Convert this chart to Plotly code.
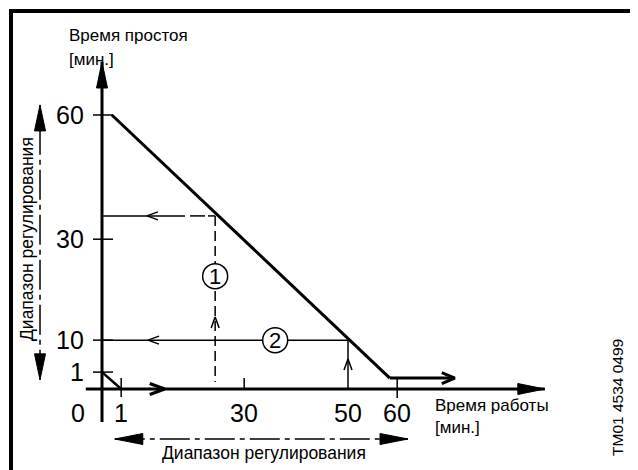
import plotly.graph_objects as go

# ---------------- data (diagram units) ----------------
x_tick_vals = [3.9, 28.9, 50, 60]
x_tick_text = ["1", "30", "50", "60"]
y_tick_vals = [3.7, 10.7, 32.8, 60]
y_tick_text = ["1", "10", "30", "60"]

# operating curve: pause time vs. run time, then constant
curve_x = [2.0, 58.5]
curve_y = [60, 2.4]
tail_x = [58.5, 71.7]
tail_y = [2.4, 2.4]
# start-up segment near origin
start_x = [0, 3.9]
start_y = [3.7, 0]

# example 1 (dash-dot construction) and example 2 (solid)
ex1_x, ex1_y = 23.0, 37.9
ex2_x, ex2_y = 50.0, 10.7
ex1_label, ex2_label = "1", "2"
ex1_label_y = 24.7
ex2_label_x = 35.2

# axis extents
x_axis = [-3.3, 90.0]
y_axis = [-7.2, 71.6]
x_range_arrow = [2.6, 62.2]     # bottom "Диапазон регулирования"
y_range_arrow = [2.0, 62.2]     # left "Диапазон регулирования"

# ---------------- geometry / styling ----------------
PAGE = 8                   # default page margin of the html body
W, H = 638 - PAGE, 470 - PAGE
OX, OY = 102 - PAGE, 389 - PAGE   # pixel of origin inside the figure
SX, SY = 4.92, 4.567       # pixels per diagram unit
XR = [-OX / SX, (W - OX) / SX]
YR = [(OY - H) / SY, OY / SY]


def dx(p):
    return p / SX


def dy(p):
    return p / SY


FONT = "Liberation Sans, Arial, Helvetica, sans-serif"
fig = go.Figure()


def line(xs, ys, width=1.5, dash="solid"):
    fig.add_trace(go.Scatter(x=xs, y=ys, mode="lines", hoverinfo="skip",
                             line=dict(color="black", width=width, dash=dash),
                             showlegend=False))


def head(tx, ty, direction, length, half, filled=True, width=1.5):
    ux, uy = {"up": (0, 1), "down": (0, -1), "left": (-1, 0), "right": (1, 0)}[direction]
    bx, by = tx - ux * dx(length), ty - uy * dy(length)
    px, py = -uy, ux
    p1 = (bx + px * dx(half), by + py * dy(half))
    p2 = (bx - px * dx(half), by - py * dy(half))
    if filled:
        fig.add_trace(go.Scatter(x=[p1[0], tx, p2[0], p1[0]], y=[p1[1], ty, p2[1], p1[1]],
                                 mode="lines", fill="toself", fillcolor="black",
                                 line=dict(color="black", width=1), hoverinfo="skip",
                                 showlegend=False))
    else:
        line([p1[0], tx, p2[0]], [p1[1], ty, p2[1]], width=width)


# axes
line(x_axis, [0, 0], width=3)
head(x_axis[1], 0, "right", 27, 5.5)
head(x_axis[0] + dx(79), 0, "right", 15, 5.5, filled=False, width=3)
line([0, 0], y_axis, width=3)
head(0, y_axis[1], "up", 26, 5.5)

# y ticks
for v in y_tick_vals:
    line([-dx(9), dx(11)], [v, v], width=1.5)
# x ticks
line([x_tick_vals[0]] * 2, [dy(11), -dy(8)], width=1.5)
line([x_tick_vals[1]] * 2, [dy(11), 0], width=1.5)
line([x_tick_vals[3]] * 2, [tail_y[0], -dy(9)], width=1.5)

# curve
line(curve_x, curve_y, width=3)
line(tail_x, tail_y, width=3)
head(tail_x[1], tail_y[1], "right", 13, 5.5, filled=False, width=3)
line(start_x, start_y, width=2.5)

# example 1
line([0, dx(83)], [ex1_y, ex1_y], width=1.5)
line([dx(88), dx(103)], [ex1_y, ex1_y], width=1.5)
line([dx(106), ex1_x], [ex1_y, ex1_y], width=1.5)
head(dx(45), ex1_y, "left", 11, 4, filled=False)
line([ex1_x, ex1_x], [ex1_y, dy(7)], width=1.5, dash="10px,5px")
head(ex1_x, dy(72), "up", 11, 4, filled=False)

# example 2
line([0, ex2_x], [ex2_y, ex2_y], width=1.5)
head(dx(46), ex2_y, "left", 11, 4, filled=False)
line([ex2_x, ex2_x], [0, ex2_y], width=1.5)
head(ex2_x, dy(30), "up", 11, 4, filled=False)

# range arrows
line(x_range_arrow, [-10.95, -10.95], width=1.5, dash="30px,5px,5px,5px")
head(x_range_arrow[0], -10.95, "left", 28, 5.5)
head(x_range_arrow[1], -10.95, "right", 28, 5.5)
line([-12.6, -12.6], y_range_arrow, width=1.5, dash="30px,5px,5px,5px")
head(-12.6, y_range_arrow[1], "up", 26, 5.5)
head(-12.6, y_range_arrow[0], "down", 26, 5.5)

shapes = []
# circles with labels
for cx, cy in [(ex1_x, ex1_label_y), (ex2_label_x, ex2_y)]:
    shapes.append(dict(type="circle", xref="x", yref="y",
                       x0=cx - dx(12.5), x1=cx + dx(12.5),
                       y0=cy - dy(12.5), y1=cy + dy(12.5),
                       line=dict(color="black", width=1.5), fillcolor="white", layer="above"))
# outer frame
shapes.append(dict(type="rect", xref="paper", yref="paper",
                   x0=(11 - PAGE) / W, x1=1.2, y0=-0.2, y1=1 - (11 - PAGE) / H,
                   line=dict(color="black", width=4)))

ann = []


def text(x, y, s, size, xanchor="center", yanchor="middle", angle=0):
    ann.append(dict(x=x, y=y, xref="x", yref="y", text=s, showarrow=False,
                    xanchor=xanchor, yanchor=yanchor, textangle=angle,
                    font=dict(family=FONT, size=size, color="black")))


for v, t in zip(y_tick_vals, y_tick_text):
    text(-dx(16), v, t, 25, xanchor="right")
for v, t in zip(x_tick_vals, x_tick_text):
    text(v, -dy(24), t, 25)
text(-dx(15), -dy(24), "0", 25, xanchor="right")

text(ex1_x, ex1_label_y, ex1_label, 22)
text(ex2_label_x, ex2_y, ex2_label, 22)

text(-dx(35), dy(389 - 35), "Время простоя", 17, xanchor="left")
text(-dx(35), dy(389 - 59), "[мин.]", 17, xanchor="left")
text(dx(331), -dy(16), "Время работы", 17, xanchor="left")
text(dx(331), -dy(38), "[мин.]", 17, xanchor="left")
text(dx(162), -dy(64), "Диапазон регулирования", 17.5)
text(-dx(75), dy(389 - 239), "Диапазон регулирования", 17.5, angle=-90)
text(dx(515), -dy(9), "TM01 4534 0499", 15.5, angle=-90)

fig.update_layout(
    width=W, height=H, margin=dict(l=0, r=0, t=0, b=0),
    paper_bgcolor="white", plot_bgcolor="white",
    xaxis=dict(range=XR, visible=False, fixedrange=True),
    yaxis=dict(range=YR, visible=False, fixedrange=True),
    shapes=shapes, annotations=ann, showlegend=False,
)
fig.write_html("out.html")
